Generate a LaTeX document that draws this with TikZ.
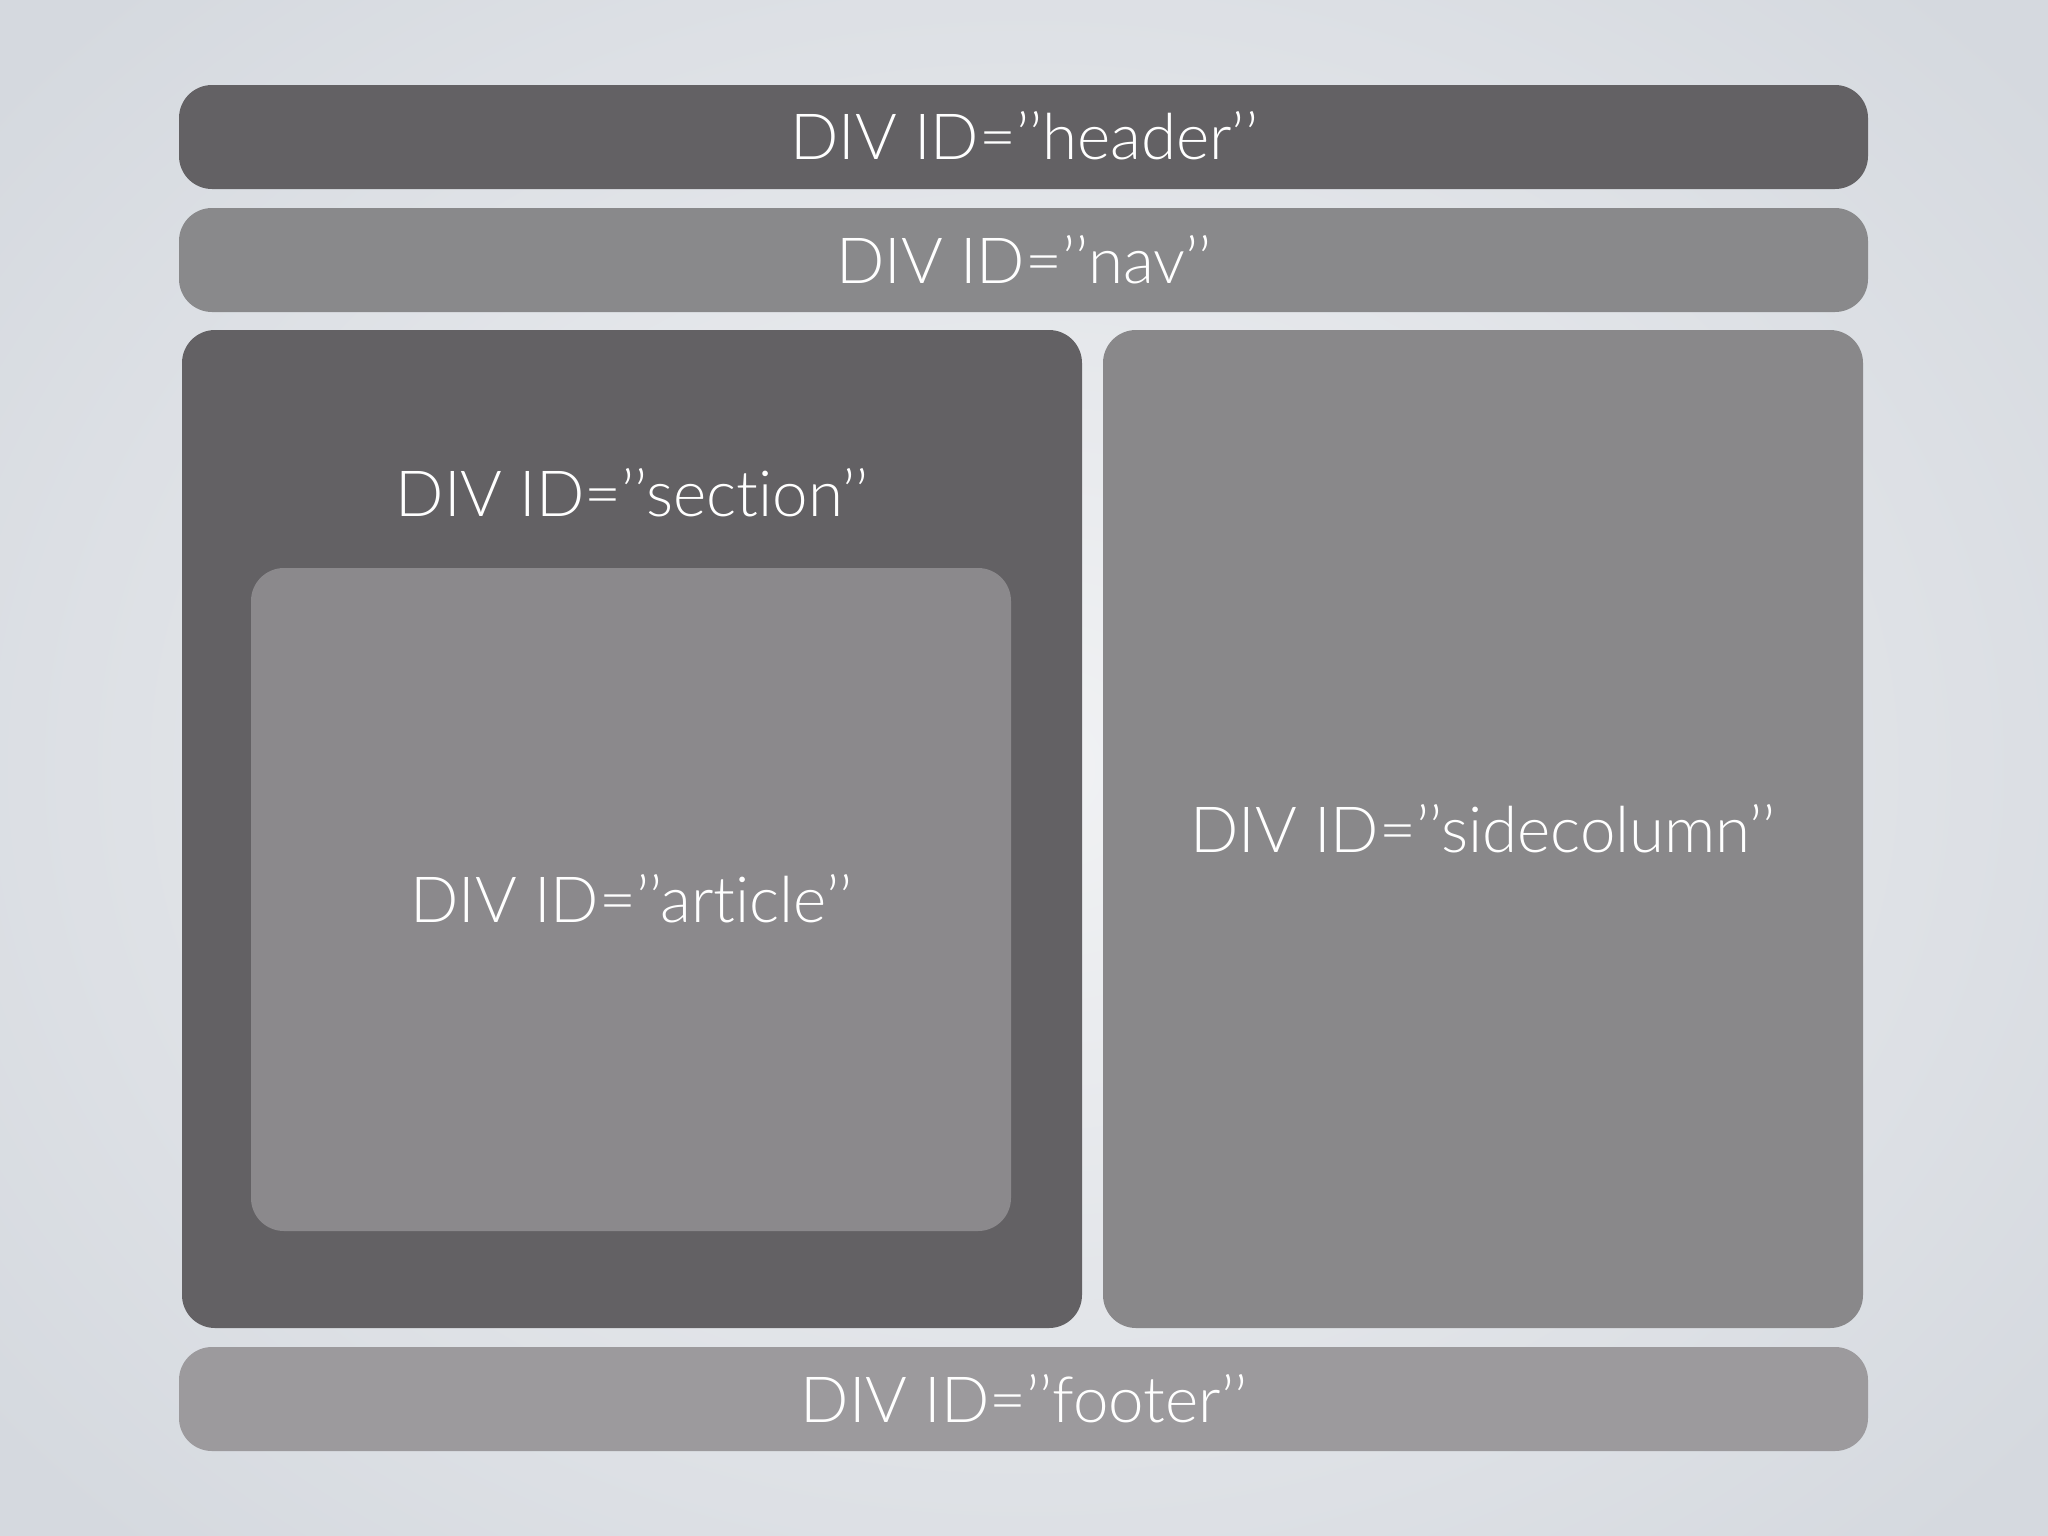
\documentclass[tikz,border=0pt]{standalone}
\usepackage{fontspec}
\setmainfont{Lato Light}[Ligatures=NoCommon]
\definecolor{bgin}{HTML}{F1F2F4}
\definecolor{bgout}{HTML}{D5D9DF}
\definecolor{darkbox}{HTML}{636164}
\definecolor{midbox}{HTML}{89898B}
\definecolor{artbox}{HTML}{8B898C}
\definecolor{sidebox}{HTML}{89888A}
\definecolor{footbox}{HTML}{9C9A9D}
\tikzset{
  divbox/.style={rounded corners=0.33cm, draw=none},
  divtext/.style={text=white, font=\fontsize{18.1}{22}\selectfont, inner sep=0pt}
}
\begin{document}
\begin{tikzpicture}[x=0.01cm, y=-0.01cm]
\useasboundingbox (0,0) rectangle (2048,1536);
\shade[inner color=bgin, outer color=bgout] (-300,-300) rectangle (2348,1836);
% header
\fill[darkbox, divbox] (179,85) rectangle (1868,189);
\node[divtext, anchor=base] (header) at (1024,159) {DIV ID=’’header’’};
% nav
\fill[midbox, divbox] (179,208) rectangle (1868,312);
\node[divtext, anchor=base] (nav) at (1024,283) {DIV ID=’’nav’’};
% section
\fill[darkbox, divbox] (182,330) rectangle (1082,1328);
\node[divtext, anchor=base] (section) at (632,516) {DIV ID=’’section’’};
% article
\fill[artbox, divbox] (251,568) rectangle (1011,1231);
\node[divtext, anchor=base] (article) at (631,922) {DIV ID=’’article’’};
% sidecolumn
\fill[sidebox, divbox] (1103,330) rectangle (1863,1328);
\node[divtext, anchor=base] (sidecolumn) at (1483,852) {DIV ID=’’sidecolumn’’};
% footer
\fill[footbox, divbox] (179,1347) rectangle (1868,1451);
\node[divtext, anchor=base] (footer) at (1024,1422) {DIV ID=’’footer’’};
\end{tikzpicture}
\end{document}
